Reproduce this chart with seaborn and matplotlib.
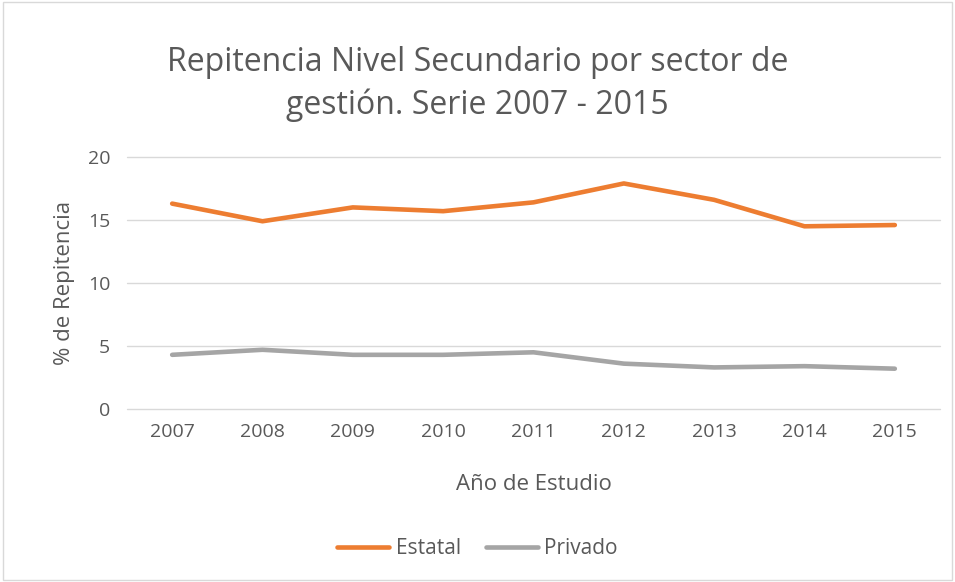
import matplotlib
matplotlib.use("Agg")
import matplotlib.pyplot as plt
import seaborn as sns
import pandas as pd

# data
years = ["2007", "2008", "2009", "2010", "2011", "2012", "2013", "2014", "2015"]
estatal = [16.3, 14.9, 16.0, 15.7, 16.4, 17.9, 16.6, 14.5, 14.6]
privado = [4.3, 4.7, 4.3, 4.3, 4.5, 3.6, 3.3, 3.4, 3.2]
series_names = ["Estatal", "Privado"]
colors = ["#ED7D31", "#A5A5A5"]
yticks = [0, 5, 10, 15, 20]

df = pd.DataFrame({
    "year": years * 2,
    "pos": list(range(len(years))) * 2,
    "value": estatal + privado,
    "sector": [series_names[0]] * len(years) + [series_names[1]] * len(years),
})

sns.set_theme(style="white")
plt.rcParams["font.family"] = ["Open Sans", "DejaVu Sans"]
text_color = "#595959"

fig = plt.figure(figsize=(9.55, 5.82), dpi=100)
ax = fig.add_axes([127 / 955, 1 - 409 / 582, (940 - 127) / 955, (409 - 157) / 582])

sns.lineplot(data=df, x="pos", y="value", hue="sector",
             palette=dict(zip(series_names, colors)), linewidth=3.3,
             ax=ax, legend=False, solid_capstyle="round")

ax.set_xlim(-0.5, len(years) - 0.5)
ax.set_ylim(0, 20)
ax.set_yticks(yticks)
ax.set_yticklabels([str(t) for t in yticks], fontsize=14, color=text_color)
ax.set_xticks(range(len(years)))
ax.set_xticklabels(years, fontsize=14, color=text_color)
ax.tick_params(axis="x", length=0, pad=10)
ax.tick_params(axis="y", length=0, pad=12)
ax.yaxis.grid(True, color="#D9D9D9", linewidth=1)
ax.xaxis.grid(False)
for gl in ax.get_ygridlines():
    gl.set_clip_on(False)
for s in ax.spines.values():
    s.set_visible(False)

ax.set_xlabel("Año de Estudio", fontsize=16, color=text_color, labelpad=24)
ax.set_ylabel("% de Repitencia", fontsize=16, color=text_color, labelpad=9)

fig.text(0.5, 1 - 84 / 582, "Repitencia Nivel Secundario por sector de\ngestión. Serie 2007 - 2015",
         ha="center", va="center", fontsize=23, color=text_color, linespacing=1.35)

# legend
handles = [plt.Line2D([0], [0], color=c, linewidth=3.3) for c in colors]
fig.legend(handles, series_names, loc="center", bbox_to_anchor=(0.5, 1 - 549 / 582),
           ncol=2, frameon=False, fontsize=15, labelcolor=text_color,
           handlelength=2.5, handletextpad=0.3, columnspacing=1.2)

# light chart border
border = plt.Rectangle((0.003, 0.003), 0.994, 0.994, transform=fig.transFigure,
                       fill=False, edgecolor="#D9D9D9", linewidth=1)
fig.patches.append(border)

fig.savefig("out.png", dpi=100)
